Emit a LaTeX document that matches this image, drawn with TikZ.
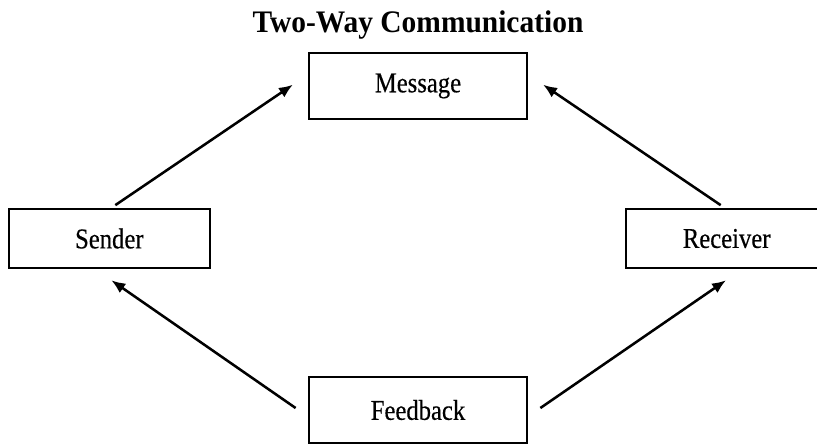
\documentclass[tikz,border=0pt]{standalone}
\usepackage{fontspec}
\setmainfont{Liberation Serif}
\newfontfamily\boxfont[FakeStretch=0.86,FakeBold=0.4]{Liberation Serif}
\newfontfamily\titlefont[FakeStretch=0.94]{Liberation Serif}
\usepackage{xcolor}
\usepackage{tikz}
\usetikzlibrary{arrows.meta}

\begin{document}
\begin{tikzpicture}[node distance=45.75pt, every node/.style={font=\boxfont\fontsize{21.5}{24}\selectfont},
    stagebox/.style={draw, rectangle, line width=1.6pt, minimum width=164pt, minimum height=49.5pt, align=center},
    sidebox/.style={stagebox, minimum width=151pt, minimum height=44pt},
    flow/.style={line width=1.9pt, -{Latex[length=10.5pt,width=8.5pt]}}]
    \useasboundingbox (0,0) rectangle (612.75pt,-332.25pt);
    \clip (0,0) rectangle (612.75pt,-332.25pt);

    % Title and the message box under it
    \node[font=\titlefont\bfseries\fontsize{23.5}{26}\selectfont] (title) at (313.5pt,-18.75pt) {Two-Way Communication};
    \node[stagebox, below of=title] (message) {Message};

    % Sender and receiver on both sides (receiver runs past the right edge)
    \node[sidebox, below of=message, xshift=-231.5pt, yshift=-68.65pt] (sender) {Sender};
    \node[sidebox, minimum width=180pt, below of=message, xshift=246pt, yshift=-68.65pt] (receiver) {Receiver\hspace*{29pt}};

    % Feedback at the bottom
    \node[stagebox, below of=message, yshift=-197.25pt] (feedback) {Feedback};

    % Arrows
    \draw[flow] ([xshift=4.5pt,yshift=2.25pt]sender.north) -- ([xshift=-11pt,yshift=1pt]message.west);
    \draw[flow] ([xshift=-19pt,yshift=2.25pt]receiver.north) -- ([xshift=11pt,yshift=1pt]message.east);
    \draw[flow] ([xshift=-9pt,yshift=1.5pt]feedback.west) -- ([xshift=1.5pt,yshift=-8.5pt]sender.south);
    \draw[flow] ([xshift=9pt,yshift=1.5pt]feedback.east) -- ([xshift=-15pt,yshift=-8.5pt]receiver.south);
\end{tikzpicture}
\end{document}
